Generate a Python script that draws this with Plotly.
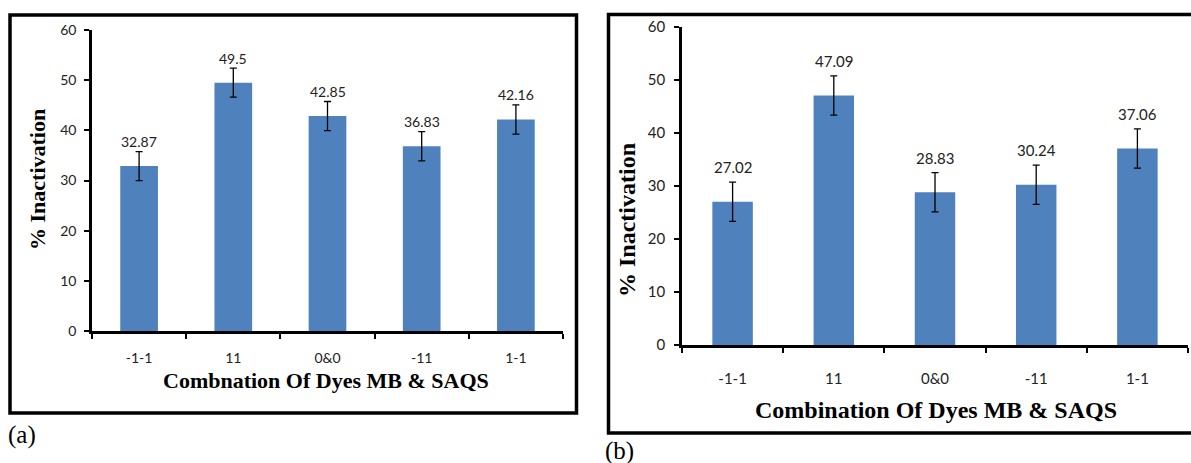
import plotly.graph_objects as go

# ---------------- data ----------------
categories = ["-1-1", "11", "0&0", "-11", "1-1"]
values_a = [32.87, 49.5, 42.85, 36.83, 42.16]
errors_a = [2.9, 2.9, 2.9, 2.9, 2.9]
values_b = [27.02, 47.09, 28.83, 30.24, 37.06]
errors_b = [3.7, 3.7, 3.7, 3.7, 3.7]
y_ticks = [0, 10, 20, 30, 40, 50, 60]
title_a = "Combnation Of Dyes MB & SAQS"
title_b = "Combination Of Dyes MB & SAQS"
y_title = "% Inactivation"

W, H = 1191, 463
BAR = "#4F81BD"
SANS = "Lato, Carlito, Calibri, sans-serif"
SERIF = "Liberation Serif, Times New Roman, serif"


def px(x):
    return x / W


def py(y):
    return 1 - y / H


fig = go.Figure()

fig.add_trace(go.Bar(
    x=categories, y=values_a, width=0.4, marker=dict(color=BAR, line=dict(width=0)),
    error_y=dict(type="data", array=errors_a, visible=True, color="black", thickness=1.3, width=3.5),
    xaxis="x", yaxis="y", showlegend=False, hoverinfo="skip"))
fig.add_trace(go.Bar(
    x=categories, y=values_b, width=0.4, marker=dict(color=BAR, line=dict(width=0)),
    error_y=dict(type="data", array=errors_b, visible=True, color="black", thickness=1.3, width=3.5),
    xaxis="x2", yaxis="y2", showlegend=False, hoverinfo="skip"))

common_y = dict(range=[0, 60], tickvals=y_ticks, showline=True, linecolor="black", linewidth=2.5,
                ticks="outside", ticklen=5, tickwidth=2, tickcolor="black", showgrid=False,
                zeroline=False, automargin=False)
common_x = dict(type="category", range=[-0.5, 4.5], showline=True, linecolor="black", linewidth=2.5,
                ticks="outside", tickson="boundaries", ticklen=5, tickwidth=2, tickcolor="black",
                showgrid=False, zeroline=False, automargin=False)

fig.update_layout(
    width=W, height=H, margin=dict(l=0, r=0, t=0, b=0, pad=0, autoexpand=False),
    paper_bgcolor="white", plot_bgcolor="white",
    xaxis=dict(common_x, domain=[px(92), px(563)], anchor="y",
               tickfont=dict(family=SANS, size=14, color="#222"), ticklabelstandoff=12),
    yaxis=dict(common_y, domain=[py(331), py(30)], anchor="x", ticklabelstandoff=5,
               tickfont=dict(family=SANS, size=14, color="#222")),
    xaxis2=dict(common_x, domain=[px(682), px(1188)], anchor="y2",
                tickfont=dict(family=SANS, size=15, color="#222"), ticklabelstandoff=18),
    yaxis2=dict(common_y, domain=[py(345), py(27)], anchor="x2", ticklabelstandoff=6,
                tickfont=dict(family=SANS, size=15, color="#222")),
)

annotations = []
for i, (v, e) in enumerate(zip(values_a, errors_a)):
    annotations.append(dict(x=i, y=v + e, xref="x", yref="y", text=str(v), showarrow=False,
                            yanchor="middle", yshift=10, font=dict(family=SANS, size=14, color="#222")))
for i, (v, e) in enumerate(zip(values_b, errors_b)):
    annotations.append(dict(x=i, y=v + e, xref="x2", yref="y2", text=f"{v:.2f}", showarrow=False,
                            yanchor="middle", yshift=15, font=dict(family=SANS, size=15, color="#222")))

# axis titles
annotations.append(dict(x=px(326), y=py(380), xref="paper", yref="paper", text="<b>" + title_a + "</b>",
                        showarrow=False, xanchor="center", yanchor="middle",
                        font=dict(family=SERIF, size=22, color="black")))
annotations.append(dict(x=px(936), y=py(410), xref="paper", yref="paper", text="<b>" + title_b + "</b>",
                        showarrow=False, xanchor="center", yanchor="middle",
                        font=dict(family=SERIF, size=24, color="black")))
annotations.append(dict(x=px(37), y=py(180), xref="paper", yref="paper", text="<b>" + y_title + "</b>",
                        showarrow=False, textangle=-90, xanchor="center", yanchor="middle",
                        font=dict(family=SERIF, size=22, color="black")))
annotations.append(dict(x=px(627), y=py(220), xref="paper", yref="paper", text="<b>" + y_title + "</b>",
                        showarrow=False, textangle=-90, xanchor="center", yanchor="middle",
                        font=dict(family=SERIF, size=24, color="black")))
# panel labels
annotations.append(dict(x=px(6), y=py(435), xref="paper", yref="paper", text="(a)", showarrow=False,
                        xanchor="left", yanchor="middle", font=dict(family=SERIF, size=25, color="black")))
annotations.append(dict(x=px(603), y=py(451), xref="paper", yref="paper", text="(b)", showarrow=False,
                        xanchor="left", yanchor="middle", font=dict(family=SERIF, size=25, color="black")))

fig.update_layout(annotations=annotations)

shapes = [
    dict(type="rect", xref="paper", yref="paper", x0=px(10), x1=px(576.5), y0=py(413), y1=py(15),
         line=dict(color="black", width=3.5), fillcolor="rgba(0,0,0,0)", layer="above"),
    dict(type="rect", xref="paper", yref="paper", x0=px(608.5), x1=px(1200), y0=py(433), y1=py(14.5),
         line=dict(color="black", width=3.5), fillcolor="rgba(0,0,0,0)", layer="above"),
]
fig.update_layout(shapes=shapes)

fig.write_html("out.html",
               config={"displayModeBar": False},
               post_script="document.body.style.margin='0';document.body.style.overflow='hidden';")
